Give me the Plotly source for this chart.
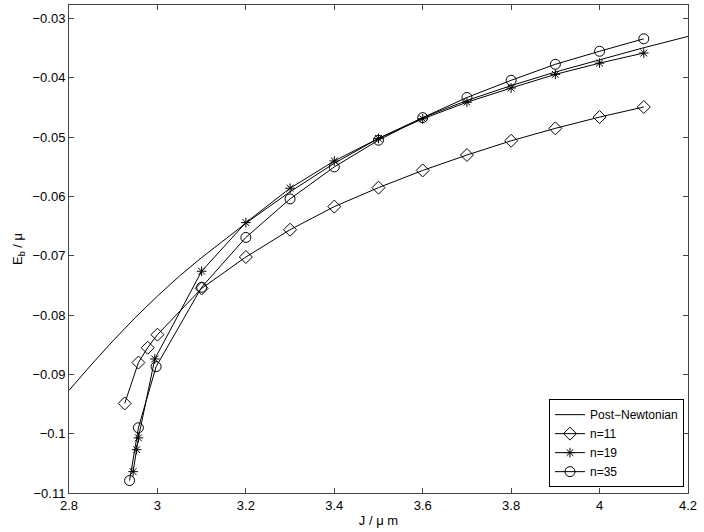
import plotly.graph_objs as go

# post-newtonian curve
j_pn = [2.80, 2.85, 2.90, 2.95, 3.00, 3.05, 3.10, 3.20, 3.30, 3.40,
        3.50, 3.60, 3.70, 3.80, 3.90, 4.00, 4.10, 4.20]
e_pn = [-0.0927, -0.0884, -0.0843, -0.0804, -0.0768, -0.0734, -0.0703,
        -0.0645, -0.0592, -0.0544, -0.0502, -0.0467, -0.0438, -0.0413,
        -0.0390, -0.0369, -0.0349, -0.0330]

j_n11 = [2.926, 2.957, 2.978, 3.0, 3.1, 3.2, 3.3, 3.4, 3.5, 3.6, 3.7,
         3.8, 3.9, 4.0, 4.1]
e_n11 = [-0.0949, -0.0880, -0.0855, -0.0833, -0.0755, -0.0702, -0.0656,
         -0.0617, -0.0585, -0.0556, -0.0530, -0.0506, -0.0485, -0.0466,
         -0.0449]

j_n19 = [2.945, 2.953, 2.957, 2.994, 3.1, 3.2, 3.3, 3.4, 3.5, 3.6, 3.7,
         3.8, 3.9, 4.0, 4.1]
e_n19 = [-0.1064, -0.1027, -0.1007, -0.0874, -0.0726, -0.0644, -0.0586,
         -0.0540, -0.0502, -0.0469, -0.0441, -0.0417, -0.0394, -0.0375,
         -0.0358]

j_n35 = [2.937, 2.957, 2.997, 3.1, 3.2, 3.3, 3.4, 3.5, 3.6, 3.7, 3.8,
         3.9, 4.0, 4.1]
e_n35 = [-0.1079, -0.0990, -0.0887, -0.0753, -0.0669, -0.0604, -0.0550,
         -0.0505, -0.0467, -0.0433, -0.0404, -0.0377, -0.0355, -0.0334]

line = dict(color='black', width=1)

pn = go.Scatter(x=j_pn, y=e_pn, mode='lines', name='Post\u2212Newtonian',
                line=line)
n11 = go.Scatter(x=j_n11, y=e_n11, mode='lines+markers', name='n=11',
                 line=line,
                 marker=dict(symbol='diamond-open', size=10,
                             color='black', line=dict(width=1)))
n19 = go.Scatter(x=j_n19, y=e_n19, mode='lines+markers', name='n=19',
                 line=line,
                 marker=dict(symbol='asterisk-open', size=8,
                             color='black', line=dict(width=1)))
n35 = go.Scatter(x=j_n35, y=e_n35, mode='lines+markers', name='n=35',
                 line=line,
                 marker=dict(symbol='circle-open', size=10,
                             color='black', line=dict(width=1)))

axis = dict(showgrid=False, zeroline=False, showline=True, mirror='ticks',
            linecolor='#444', linewidth=1, ticks='inside', ticklen=5,
            tickcolor='#444', tickfont=dict(size=13, color='black'))

layout = go.Layout(
    width=704, height=532,
    margin=dict(l=69, r=16, t=5, b=39),
    paper_bgcolor='white', plot_bgcolor='white',
    font=dict(family='Liberation Sans, Arial, sans-serif', size=13,
              color='black'),
    xaxis=dict(axis, range=[2.8, 4.2], dtick=0.2, tick0=2.8,
               title=dict(text='J / \u03bc m', standoff=4,
                          font=dict(size=13))),
    yaxis=dict(axis, range=[-0.11, -0.0277], dtick=0.01, tick0=-0.11,
               title=dict(text='E<sub>b</sub> / \u03bc', standoff=6,
                          font=dict(size=13))),
    legend=dict(x=0.9935, y=0.012, xanchor='right', yanchor='bottom',
                bgcolor='white', bordercolor='black', borderwidth=1,
                font=dict(size=12), tracegroupgap=0),
)

fig = go.Figure(data=[pn, n11, n19, n35], layout=layout)
# drop the default page margin so the figure sits at the window corner
fig.write_html("out.html", config={'displayModeBar': False},
               post_script="document.body.style.margin='0';")
